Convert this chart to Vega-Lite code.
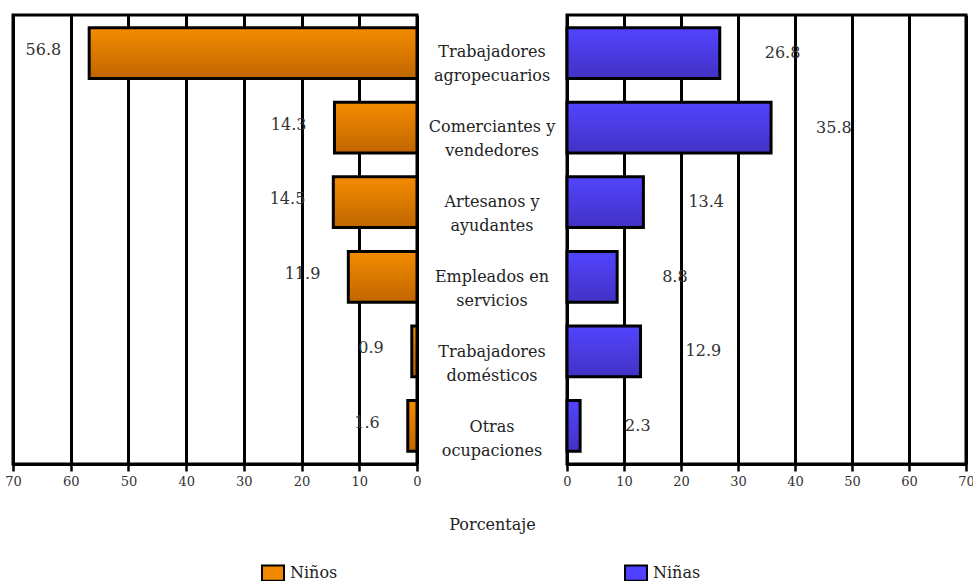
{
  "$schema": "https://vega.github.io/schema/vega-lite/v6.json",
  "padding": {"left": 3, "top": 13, "right": 0, "bottom": 0},
  "background": "white",
  "spacing": 0,
  "bounds": "flush",
  "data": {"values": [
    {"ocupacion": "Trabajadores\nagropecuarios", "sexo": "Niños", "valor": 56.8},
    {"ocupacion": "Trabajadores\nagropecuarios", "sexo": "Niñas", "valor": 26.8},
    {"ocupacion": "Comerciantes y\nvendedores", "sexo": "Niños", "valor": 14.3},
    {"ocupacion": "Comerciantes y\nvendedores", "sexo": "Niñas", "valor": 35.8},
    {"ocupacion": "Artesanos y\nayudantes", "sexo": "Niños", "valor": 14.5},
    {"ocupacion": "Artesanos y\nayudantes", "sexo": "Niñas", "valor": 13.4},
    {"ocupacion": "Empleados en\nservicios", "sexo": "Niños", "valor": 11.9},
    {"ocupacion": "Empleados en\nservicios", "sexo": "Niñas", "valor": 8.8},
    {"ocupacion": "Trabajadores\ndomésticos", "sexo": "Niños", "valor": 0.9},
    {"ocupacion": "Trabajadores\ndomésticos", "sexo": "Niñas", "valor": 12.9},
    {"ocupacion": "Otras\nocupaciones", "sexo": "Niños", "valor": 1.6},
    {"ocupacion": "Otras\nocupaciones", "sexo": "Niñas", "valor": 2.3}
  ]},
  "config": {
    "font": "DejaVu Serif",
    "view": {"stroke": "black", "strokeWidth": 3},
    "concat": {"spacing": 0},
    "text": {"font": "DejaVu Serif"},
    "legend": {"labelFont": "DejaVu Serif"},
    "axisX": {
      "grid": true, "gridColor": "black", "gridWidth": 3, "gridOpacity": 1,
      "domainColor": "black", "domainWidth": 3,
      "tickColor": "black", "tickWidth": 2.5, "tickSize": 7,
      "labelFont": "DejaVu Serif", "labelFontSize": 13, "labelColor": "#333", "labelPadding": 4,
      "titleFont": "DejaVu Serif",
      "labelFlush": false
    }
  },
  "resolve": {"scale": {"color": "shared"}, "legend": {"color": "shared"}},
  "hconcat": [
    {
      "width": 404, "height": 449,
      "transform": [{"filter": "datum.sexo === 'Niños'"}],
      "encoding": {
        "y": {"field": "ocupacion", "type": "nominal", "sort": null, "axis": null,
              "scale": {"paddingInner": 0.32, "paddingOuter": 0.17}},
        "x": {"field": "valor", "type": "quantitative",
              "scale": {"domain": [0, 70], "reverse": true, "nice": false},
              "axis": {"values": [0, 10, 20, 30, 40, 50, 60, 70],
                       "title": "Porcentaje", "titleX": 479, "titleY": 60, "titleAlign": "center",
                       "titleBaseline": "middle", "titleFontSize": 16, "titleFontWeight": "normal",
                       "titleColor": "#222"}}
      },
      "layer": [
        {
          "mark": {"type": "bar", "stroke": "black", "strokeWidth": 3,
                   "fill": {"gradient": "linear", "x1": 0, "y1": 0, "x2": 0, "y2": 1, "stops": [{"offset": 0, "color": "#F58C00"}, {"offset": 1, "color": "#C06600"}]}}
        },
        {
          "transform": [{"filter": "false"}],
          "mark": {"type": "square", "filled": true},
          "encoding": {
            "color": {"field": "sexo", "type": "nominal",
              "scale": {"domain": ["Niños", "Niñas"], "range": ["#F08800", "#5040FF"]},
              "legend": {"orient": "none", "legendX": 248, "legendY": 546, "direction": "horizontal",
                         "title": null, "columnPadding": 283, "padding": 0,
                         "symbolType": "M-1,-0.7H1V0.7H-1Z", "symbolSize": 484,
                         "symbolStrokeColor": "black", "symbolStrokeWidth": 2, "symbolOpacity": 1,
                         "labelFontSize": 16, "labelColor": "#222", "labelOffset": 5}}
          }
        },
        {
          "mark": {"type": "text", "align": "right", "baseline": "middle", "dx": -28, "dy": -3,
                   "fontSize": 16, "color": "#333"},
          "encoding": {"text": {"field": "valor", "type": "quantitative", "format": ".1f"}}
        }
      ]
    },
    {
      "width": 150, "height": 449,
      "view": {"stroke": null},
      "transform": [{"filter": "datum.sexo === 'Niños'"}],
      "mark": {"type": "text", "fontSize": 16, "lineBreak": "\n", "lineHeight": 24,
               "color": "#222", "baseline": "middle"},
      "encoding": {
        "y": {"field": "ocupacion", "type": "nominal", "sort": null, "axis": null,
              "scale": {"paddingInner": 0.32, "paddingOuter": 0.17}},
        "text": {"field": "ocupacion", "type": "nominal"}
      }
    },
    {
      "width": 399, "height": 449,
      "transform": [{"filter": "datum.sexo === 'Niñas'"}],
      "encoding": {
        "y": {"field": "ocupacion", "type": "nominal", "sort": null, "axis": null,
              "scale": {"paddingInner": 0.32, "paddingOuter": 0.17}},
        "x": {"field": "valor", "type": "quantitative",
              "scale": {"domain": [0, 70], "nice": false},
              "axis": {"values": [0, 10, 20, 30, 40, 50, 60, 70], "title": null}}
      },
      "layer": [
        {
          "mark": {"type": "bar", "stroke": "black", "strokeWidth": 3,
                   "fill": {"gradient": "linear", "x1": 0, "y1": 0, "x2": 0, "y2": 1, "stops": [{"offset": 0, "color": "#5244FF"}, {"offset": 1, "color": "#4232C4"}]}}
        },
        {
          "mark": {"type": "text", "align": "left", "baseline": "middle", "dx": 45,
                   "fontSize": 16, "color": "#333"},
          "encoding": {"text": {"field": "valor", "type": "quantitative", "format": ".1f"}}
        }
      ]
    }
  ]
}
